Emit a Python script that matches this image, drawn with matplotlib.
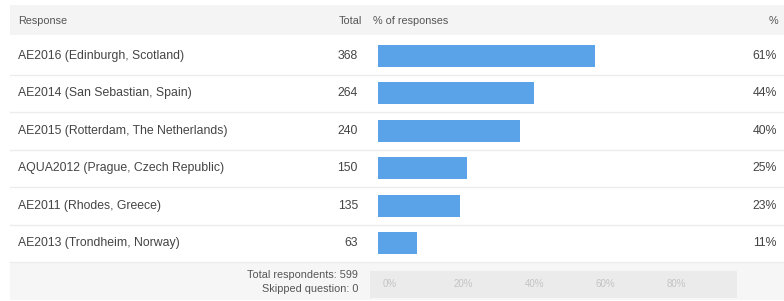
import matplotlib
matplotlib.use("Agg")
import matplotlib.pyplot as plt
from matplotlib.patches import Rectangle
from matplotlib.transforms import blended_transform_factory, ScaledTranslation

# survey data
responses = [
    "AE2016 (Edinburgh, Scotland)",
    "AE2014 (San Sebastian, Spain)",
    "AE2015 (Rotterdam, The Netherlands)",
    "AQUA2012 (Prague, Czech Republic)",
    "AE2011 (Rhodes, Greece)",
    "AE2013 (Trondheim, Norway)",
]
totals = [368, 264, 240, 150, 135, 63]
percents = [61, 44, 40, 25, 23, 11]
tick_values = [0, 20, 40, 60, 80]
tick_labels = ["0%", "20%", "40%", "60%", "80%"]
respondents = 599
skipped = 0

W, H = 784, 301
plt.rcParams['font.family'] = ['Liberation Sans', 'DejaVu Sans']

fig = plt.figure(figsize=(W / 100, H / 100), dpi=100)
fig.patch.set_facecolor('white')

def fx(px):
    return px / W

def fy(py):
    # py measured from top of image
    return 1 - py / H

# header and footer bands (drawn under the axes)
for x0, y0, w, h, c in [(10, 35, 774, 30, '#f4f4f4'),
                        (10, 300, 774, 38, '#f6f6f6'),
                        (370, 298, 367, 27, '#ebebeb')]:
    fig.patches.append(Rectangle((fx(x0), fy(y0)), fx(w), h / H, transform=fig.transFigure,
                                 facecolor=c, edgecolor='none', zorder=-5))

# header text
hdr_y = fy(21)
hdr_kw = dict(fontsize=7.8, color='#555555', va='center')
fig.text(fx(18), hdr_y, "Response", ha='left', **hdr_kw)
fig.text(fx(362), hdr_y, "Total", ha='right', **hdr_kw)
fig.text(fx(373), hdr_y, "% of responses", ha='left', **hdr_kw)
fig.text(fx(778), hdr_y, "%", ha='right', **hdr_kw)

# bar area
top, bottom = 37, 262
ax = fig.add_axes([fx(378), fy(bottom), fx(733 - 378), (bottom - top) / H])
ax.set_facecolor('none')
n = len(responses)
ypos = list(range(n))
ax.barh(ypos, percents, height=0.58, color='#5ba3e8', edgecolor='none')
ax.set_xlim(0, 100)
ax.set_ylim(n - 0.5, -0.5)
ax.axis('off')

tr = blended_transform_factory(fig.transFigure, ax.transData)
row_kw = dict(fontsize=8.8, color='#444444', va='center', transform=tr)
for i in ypos:
    ax.text(fx(18), i, responses[i], ha='left', **row_kw)
    ax.text(fx(358), i, str(totals[i]), ha='right', **row_kw)
    ax.text(fx(777), i, "%d%%" % percents[i], ha='right', **row_kw)

# row separators
for i in range(n):
    ax.plot([fx(10), 1], [i + 0.5, i + 0.5], transform=tr, color='#ececec', lw=1,
            clip_on=False)

# axis tick labels in footer band
ttr = blended_transform_factory(ax.transData, fig.transFigure) + \
    ScaledTranslation(5 / 100, 0, fig.dpi_scale_trans)
for v, lab in zip(tick_values, tick_labels):
    ax.text(v, fy(284), lab, transform=ttr, fontsize=7, color='#c4c4c4',
            va='center', ha='left', clip_on=False)

# footer text
foot_kw = dict(fontsize=7.8, color='#555555', va='center', ha='right')
fig.text(fx(358), fy(275), "Total respondents: %d" % respondents, **foot_kw)
fig.text(fx(358), fy(289), "Skipped question: %d" % skipped, **foot_kw)

fig.savefig("out.png", dpi=100, facecolor='white')
